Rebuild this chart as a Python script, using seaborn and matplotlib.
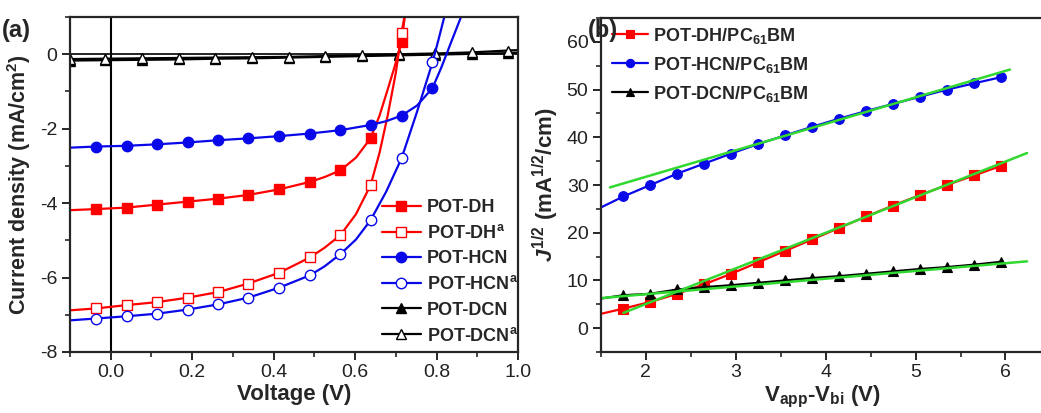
import matplotlib
matplotlib.use("Agg")
import matplotlib.pyplot as plt
import seaborn as sns
from matplotlib.ticker import MultipleLocator

# ---------------- data: panel (a) J-V curves ----------------
dh_v = [-0.10, -0.036, 0.039, 0.114, 0.189, 0.264, 0.338, 0.414, 0.489, 0.525, 0.564, 0.602, 0.638, 0.660, 0.680, 0.698, 0.714, 0.722]
dh_j = [-4.19, -4.16, -4.12, -4.04, -3.96, -3.88, -3.78, -3.63, -3.43, -3.30, -3.12, -2.78, -2.26, -1.65, -0.95, -0.30, 0.32, 1.00]
dh_mk = [1, 2, 3, 4, 5, 6, 7, 8, 10, 12, 16]

dha_v = [-0.10, -0.036, 0.039, 0.114, 0.189, 0.264, 0.338, 0.414, 0.489, 0.525, 0.564, 0.602, 0.638, 0.660, 0.680, 0.700, 0.714, 0.721]
dha_j = [-6.88, -6.83, -6.74, -6.66, -6.54, -6.39, -6.16, -5.87, -5.46, -5.20, -4.86, -4.30, -3.52, -2.65, -1.65, -0.50, 0.57, 1.00]
dha_mk = [1, 2, 3, 4, 5, 6, 7, 8, 10, 12, 16]

hcn_v = [-0.10, -0.036, 0.039, 0.114, 0.189, 0.264, 0.338, 0.414, 0.489, 0.564, 0.638, 0.676, 0.714, 0.752, 0.790, 0.812, 0.835, 0.860]
hcn_j = [-2.51, -2.48, -2.46, -2.42, -2.37, -2.31, -2.26, -2.20, -2.13, -2.04, -1.90, -1.80, -1.65, -1.38, -0.91, -0.35, 0.30, 1.00]
hcn_mk = [1, 2, 3, 4, 5, 6, 7, 8, 9, 10, 12, 14]

hcna_v = [-0.10, -0.036, 0.039, 0.114, 0.189, 0.264, 0.338, 0.414, 0.489, 0.525, 0.564, 0.602, 0.638, 0.676, 0.714, 0.752, 0.790, 0.805, 0.819]
hcna_j = [-7.15, -7.10, -7.04, -6.97, -6.86, -6.72, -6.54, -6.27, -5.94, -5.70, -5.37, -4.98, -4.46, -3.70, -2.80, -1.55, -0.22, 0.40, 1.00]
hcna_mk = [1, 2, 3, 4, 5, 6, 7, 8, 10, 12, 14, 16]

dcn_v = [-0.10, -0.014, 0.076, 0.167, 0.257, 0.348, 0.438, 0.527, 0.617, 0.707, 0.796, 0.887, 0.976, 1.00]
dcn_j = [-0.17, -0.16, -0.15, -0.14, -0.12, -0.11, -0.09, -0.07, -0.05, -0.03, -0.01, 0.01, 0.03, 0.04]
dcna_j = [-0.13, -0.12, -0.11, -0.10, -0.09, -0.08, -0.07, -0.05, -0.03, 0.00, 0.02, 0.05, 0.10, 0.11]
dcn_mk = [0, 1, 2, 3, 4, 5, 6, 7, 8, 9, 10, 11, 12]

# ---------------- data: panel (b) SCLC ----------------
vb = [1.50, 1.75, 2.05, 2.35, 2.65, 2.95, 3.25, 3.55, 3.85, 4.15, 4.45, 4.75, 5.05, 5.35, 5.65, 5.95]
b_dh = [3.0, 4.1, 5.5, 7.2, 9.2, 11.4, 13.8, 16.2, 18.6, 21.0, 23.4, 25.7, 27.9, 30.0, 32.0, 34.0]
b_hcn = [25.3, 27.6, 30.0, 32.4, 34.5, 36.6, 38.6, 40.4, 42.2, 43.9, 45.5, 47.0, 48.5, 50.0, 51.3, 52.6]
b_dcn = [6.2, 6.9, 7.2, 8.1, 8.6, 9.0, 9.5, 10.0, 10.5, 10.9, 11.4, 11.9, 12.4, 12.8, 13.3, 13.9]
b_mk = list(range(1, 16))

fit_dh_x, fit_dh_y = [1.75, 6.24], [3.2, 36.7]
fit_hcn_x, fit_hcn_y = [1.60, 6.05], [29.5, 54.2]
fit_dcn_x, fit_dcn_y = [1.50, 6.24], [6.3, 14.0]

RED, BLUE, BLACK, GREEN = "#ff0000", "#0808e8", "#000000", "#30d830"

sns.set_style("ticks")
plt.rcParams["font.family"] = ["Liberation Sans", "DejaVu Sans"]
plt.rcParams["mathtext.fontset"] = "custom"
plt.rcParams["mathtext.rm"] = "Liberation Sans"
plt.rcParams["mathtext.it"] = "Liberation Sans:italic:bold"
plt.rcParams["mathtext.bf"] = "Liberation Sans:bold"

fig = plt.figure(figsize=(10.41, 4.13), dpi=100)
ax1 = fig.add_axes([0.0672, 0.1477, 0.4304, 0.8111])
ax2 = fig.add_axes([0.5773, 0.1477, 0.4257, 0.8087])

lw, ms = 1.6, 7.5
ax1.axvline(0, color="black", lw=1.5, zorder=1)
ax1.axhline(0, color="black", lw=1.2, zorder=1)

series = [
    (dcn_v, dcn_j, dcn_mk, BLACK, "^", BLACK, "POT-DCN"),
    (dcn_v, dcna_j, dcn_mk, BLACK, "^", "white", "POT-DCN$^{\\mathregular{a}}$"),
    (dh_v, dh_j, dh_mk, RED, "s", RED, "POT-DH"),
    (dha_v, dha_j, dha_mk, RED, "s", "white", "POT-DH$^{\\mathregular{a}}$"),
    (hcn_v, hcn_j, hcn_mk, BLUE, "o", BLUE, "POT-HCN"),
    (hcna_v, hcna_j, hcna_mk, BLUE, "o", "white", "POT-HCN$^{\\mathregular{a}}$"),
]
for x, y, mk, c, m, fc, lab in series:
    sns.lineplot(x=x, y=y, ax=ax1, color=c, lw=lw, marker=m, markevery=mk,
                 markersize=ms, markerfacecolor=fc, markeredgecolor=c,
                 markeredgewidth=1.0, sort=False, estimator=None, label=lab)
h, l = ax1.get_legend_handles_labels()
order = ["POT-DH", "POT-DH$^{\\mathregular{a}}$", "POT-HCN", "POT-HCN$^{\\mathregular{a}}$",
         "POT-DCN", "POT-DCN$^{\\mathregular{a}}$"]
hd = dict(zip(l, h))
ax1.legend([hd[k] for k in order], order, loc="lower right", frameon=False,
           prop={"weight": "bold", "size": 13}, handlelength=2.2, handletextpad=0.3,
           labelspacing=0.45, borderaxespad=0.1, bbox_to_anchor=(1.02, -0.005))

ax1.set_xlim(-0.1, 1.0)
ax1.set_ylim(-8, 1)
ax1.xaxis.set_minor_locator(MultipleLocator(0.1))
ax1.yaxis.set_minor_locator(MultipleLocator(1))
ax1.set_xticks([0.0, 0.2, 0.4, 0.6, 0.8, 1.0])
ax1.set_xticklabels(["0.0", "0.2", "0.4", "0.6", "0.8", "1.0"])
ax1.set_yticks([0, -2, -4, -6, -8])
ax1.set_yticklabels(["0", "-2", "-4", "-6", "-8"])
ax1.set_xlabel("Voltage (V)", fontsize=16, fontweight="bold", labelpad=2)
ax1.set_ylabel("Current density (mA/cm$^{\\mathbf{2}}$)", fontsize=15.5, fontweight="bold", labelpad=5)

# panel (b)
bser = [
    (b_dh, RED, "s", "POT-DH/PC$_{\\mathbf{61}}$BM"),
    (b_hcn, BLUE, "o", "POT-HCN/PC$_{\\mathbf{61}}$BM"),
    (b_dcn, BLACK, "^", "POT-DCN/PC$_{\\mathbf{61}}$BM"),
]
for y, c, m, lab in bser:
    sns.lineplot(x=vb, y=y, ax=ax2, color=c, lw=lw, marker=m, markevery=b_mk,
                 markersize=7, markeredgecolor=c, markeredgewidth=0.8,
                 sort=False, estimator=None, label=lab)
for fx, fy in [(fit_dh_x, fit_dh_y), (fit_hcn_x, fit_hcn_y), (fit_dcn_x, fit_dcn_y)]:
    sns.lineplot(x=fx, y=fy, ax=ax2, color=GREEN, lw=1.8, sort=False, estimator=None, legend=False)
ax2.legend(loc="upper left", frameon=False, prop={"weight": "bold", "size": 13},
           handlelength=2.0, handletextpad=0.3, labelspacing=0.5, markerscale=0.85,
           borderaxespad=0.2, bbox_to_anchor=(0.0, 1.01))
ax2.set_xlim(1.5, 6.43)
ax2.set_ylim(-5, 65)
ax2.xaxis.set_major_locator(MultipleLocator(1))
ax2.xaxis.set_minor_locator(MultipleLocator(0.5))
ax2.yaxis.set_minor_locator(MultipleLocator(5))
ax2.set_yticks([0, 10, 20, 30, 40, 50, 60])
ax2.set_xlabel("V$_{\\mathbf{app}}$-V$_{\\mathbf{bi}}$ (V)", fontsize=16, fontweight="bold", labelpad=2)
ax2.set_ylabel("$\\mathit{J}^{\\mathbf{1/2}}$ (mA$^{\\mathbf{1/2}}$/cm)", fontsize=16, fontweight="bold", labelpad=4)

for ax in (ax1, ax2):
    for s in ax.spines.values():
        s.set_linewidth(1.6)
        s.set_visible(True)
    ax.tick_params(which="major", direction="out", length=6, width=1.4, labelsize=14,
                   pad=3, labelcolor="#222222")
    ax.tick_params(which="minor", direction="out", length=3.5, width=1.2)

fig.text(0.002, 0.955, "(a)", fontsize=17, fontweight="bold", va="top", ha="left")
fig.text(0.565, 0.955, "(b)", fontsize=17, fontweight="bold", va="top", ha="left")

fig.savefig("out.png", dpi=100)
